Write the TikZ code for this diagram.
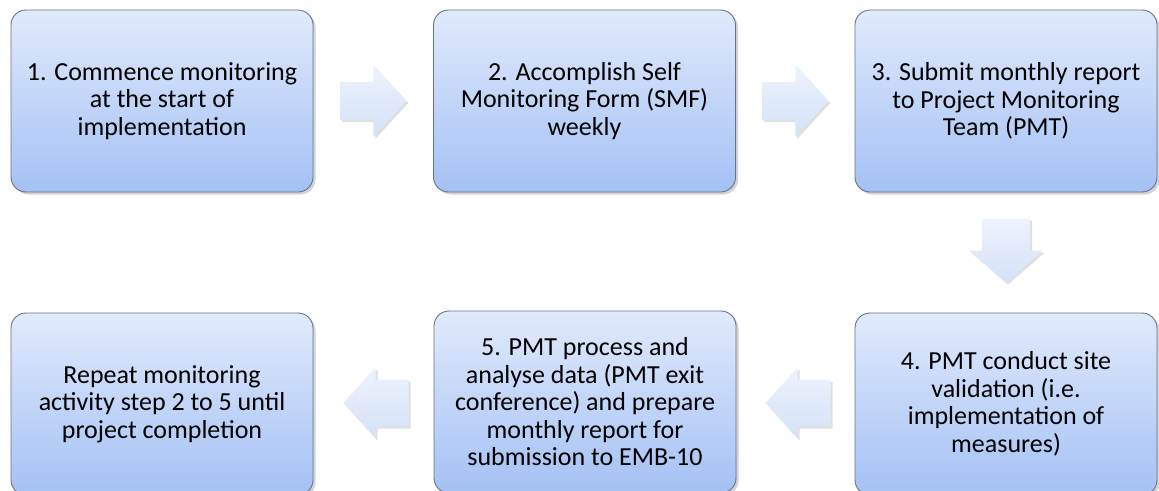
\documentclass[tikz,border=0pt]{standalone}
\usepackage{fontspec}
\setmainfont{Carlito}
\usetikzlibrary{shadows,calc}
\definecolor{boxtop}{HTML}{E0EAFC}
\definecolor{boxbot}{HTML}{A4C1F4}
\definecolor{boxline}{HTML}{65738A}
\definecolor{arrtop}{HTML}{EEF3FD}
\definecolor{arrbot}{HTML}{D3E1F8}
\tikzset{
  stepbox/.style={rectangle, rounded corners=15pt, minimum width=302pt, minimum height=182pt,
    draw=boxline, line width=0.9pt, top color=boxtop, bottom color=boxbot,
    align=center, font=\fontsize{26}{27.5}\selectfont, text=black,
    drop shadow={shadow xshift=2.5pt, shadow yshift=-2.5pt, opacity=0.35}},
  blockarrow/.style={top color=arrtop, bottom color=arrbot, draw=none,
    drop shadow={shadow xshift=2pt, shadow yshift=-2pt, opacity=0.25}}
}
\begin{document}
\begin{tikzpicture}[x=1pt,y=-1pt]
\useasboundingbox (0,0) rectangle (1159,490);
\node[stepbox] (b1) at (162,101) {1. Commence monitoring\\at the start of\\implementation};
\node[stepbox] (b2) at (584.5,101) {2. Accomplish Self\\Monitoring Form (SMF)\\weekly};
\node[stepbox] (b3) at (1006,101) {3. Submit monthly report\\to Project Monitoring\\Team (PMT)};
\node[stepbox] (b4) at (1006,404) {4. PMT conduct site\\validation (i.e.\\implementation of\\measures)};
\node[stepbox] (b5) at (585,402) {5. PMT process and\\analyse data (PMT exit\\conference) and prepare\\monthly report for\\submission to EMB-10};
\node[stepbox] (b6) at (162,404) {Repeat monitoring\\activity step 2 to 5 until\\project completion};
% connector arrows (block arrows between named boxes)
\coordinate (m12) at ($(b1.east)!0.5!(b2.west)$);
\coordinate (m23) at ($(b2.east)!0.5!(b3.west)$);
\coordinate (m34) at ($(b3.south)!0.5!(b4.north)$);
\coordinate (m45) at ($(b4.west)!0.5!(b5.east)$);
\coordinate (m56) at ($(b5.west)!0.5!(b6.east)$);
\path[blockarrow] ($(m12)+(-33,-19)$) -- ++(33,0) -- ++(0,-17) -- ($(m12)+(33,0)$) -- ($(m12)+(0,36)$) -- ++(0,-17) -- ($(m12)+(-33,19)$) -- cycle;
\path[blockarrow] ($(m23)+(-33,-19)$) -- ++(33,0) -- ++(0,-17) -- ($(m23)+(33,0)$) -- ($(m23)+(0,36)$) -- ++(0,-17) -- ($(m23)+(-33,19)$) -- cycle;
\path[blockarrow] ($(m34)+(-24,-34)$) -- ++(48,0) -- ++(0,32) -- ++(13,0) -- ($(m34)+(0,30)$) -- ($(m34)+(-37,-2)$) -- ++(13,0) -- cycle;
\path[blockarrow] ($(m45)+(35,-23.5)$) -- ++(-33,0) -- ++(0,-12) -- ($(m45)+(-30,0)$) -- ($(m45)+(2,35.5)$) -- ++(0,-12) -- ($(m45)+(35,23.5)$) -- cycle;
\path[blockarrow] ($(m56)+(35,-23.5)$) -- ++(-33,0) -- ++(0,-12) -- ($(m56)+(-30,0)$) -- ($(m56)+(2,35.5)$) -- ++(0,-12) -- ($(m56)+(35,23.5)$) -- cycle;
\end{tikzpicture}
\end{document}
